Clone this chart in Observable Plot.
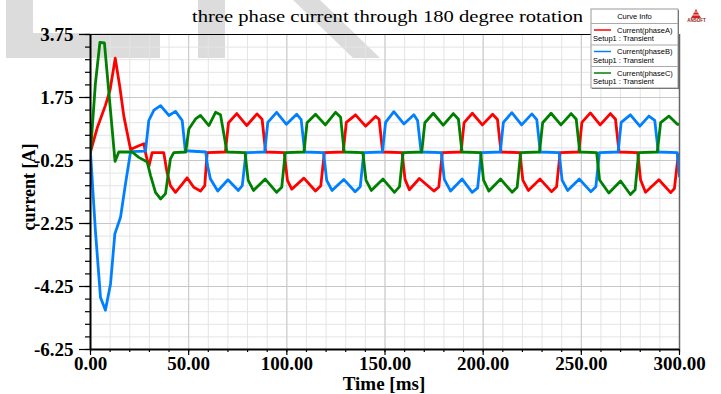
<!DOCTYPE html>
<html><head><meta charset="utf-8">
<script src="https://cdn.jsdelivr.net/npm/d3@7"></script>
<script src="https://cdn.jsdelivr.net/npm/@observablehq/plot@0.6"></script>
<style>
body{margin:0;background:#fff;}
#wrap{position:relative;width:721px;height:394px;overflow:hidden;}
.wm{position:absolute;background:#dcdcdc;}
#chart{position:absolute;left:0;top:0;}
#over{position:absolute;left:0;top:0;pointer-events:none;}
</style></head><body>
<div id="wrap">
  <div class="wm" style="left:6px;top:0;width:27px;height:58px"></div>
  <div class="wm" style="left:33px;top:33px;width:127px;height:25px"></div>
  <div class="wm" style="left:198px;top:0;width:27px;height:58px"></div>
  <svg style="position:absolute;left:0;top:0" width="721" height="394"><polygon points="293,0 320,0 380,58 353,58" fill="#dcdcdc"/></svg>
  <div id="chart"></div>
  <svg id="over" width="721" height="394"></svg>
</div>
<script>
// ---- data (time in ms, current in A) ----
const phaseA = [[0,0.02],[3.5,0.8],[7.6,1.5],[10,2.0],[12.6,3.0],[14.9,2.1],[17,1.15],[20.4,0.1],[24.6,0.22],[27.2,0.28],[28,0.0],[29.7,-0.45],[31.4,0.0],[37.3,0.0],[39,-0.63],[40.7,-1.05],[43.3,-1.26],[46.7,-1.0],[49.2,-0.8],[52.6,-1.1],[56,-1.22],[58.2,-1.05],[59.4,0.0],
[68.7,0.02],[70.3,0.95],[74.5,1.24],[79.6,0.86],[84.8,1.23],[87.4,1.06],[89.2,0.02],
[98.7,0.0],[100.3,-0.88],[102.5,-1.16],[108.7,-0.81],[114.6,-1.22],[117.3,-1.05],[119.1,0.0],
[128.7,0.02],[130.3,0.96],[135,1.2],[140.1,0.84],[145.2,1.15],[147,1.06],[148.8,0.02],
[158.7,0.0],[160.2,-0.85],[162.4,-1.18],[167.5,-0.82],[174.9,-1.22],[177.4,-1.09],[179.2,0.0],
[188.7,0.02],[190.3,0.95],[194.5,1.25],[199.6,0.88],[204.8,1.22],[207.3,1.05],[209.1,0.02],
[218.7,0.0],[220.2,-0.87],[223,-1.2],[229,-0.84],[234.8,-1.24],[237.4,-1.08],[239.2,0.0],
[248.7,0.02],[250.3,0.96],[254.6,1.26],[259.6,0.88],[264.8,1.24],[267.4,1.06],[269.2,0.02],
[278.7,0.0],[280.2,-0.87],[282.7,-1.26],[289.5,-0.86],[295.5,-1.27],[297.4,-1.14],[299.3,-0.1],[300,-0.05]];

const phaseB = [[0,0.0],[2.5,-2.48],[5.1,-4.6],[7.6,-5.0],[10.2,-4.17],[12.4,-2.58],[15.3,-2.05],[17.8,-1.0],[20.4,0.03],[28,0.05],[29.7,1.02],[32.3,1.35],[35.7,1.49],[39.9,1.18],[43.3,1.31],[46.7,1.02],[48.3,0.06],[58.7,0.02],
[59.5,-0.38],[61.1,-0.84],[64.8,-1.22],[70,-0.86],[75.3,-1.2],[77.3,-1.05],[79.2,0.0],
[88.7,0.02],[90.3,0.96],[94.8,1.28],[99.8,0.9],[105,1.22],[107.3,1.05],[109.1,0.02],
[118.7,0.0],[120.3,-0.88],[123,-1.2],[129,-0.85],[134.8,-1.24],[137.4,-1.08],[139.2,0.0],
[148.7,0.02],[150.3,0.96],[154.5,1.3],[159.6,0.91],[164.7,1.2],[166.6,1.02],[168.4,0.02],
[178.7,0.0],[180.2,-0.85],[183.4,-1.22],[189.3,-0.84],[194.4,-1.26],[197.2,-1.12],[199,0.0],
[208.7,0.02],[210.3,0.96],[214.6,1.27],[219.6,0.88],[224.8,1.23],[227.3,1.05],[229.1,0.02],
[238.7,0.0],[240.2,-0.87],[243,-1.2],[249,-0.84],[254.8,-1.24],[257.4,-1.08],[259.2,0.0],
[268.7,0.02],[270.3,0.96],[275,1.2],[279.8,0.84],[284.4,1.16],[287.4,1.02],[289.2,0.02],
[298.8,0.0],[300,-0.75]];

const phaseC = [[0,0.0],[2.5,2.2],[4.8,3.5],[7.1,3.48],[12.5,-0.28],[14.4,0.02],[21.2,0.02],[24.6,-0.15],[28.9,-0.3],[30.6,-0.73],[33.1,-1.26],[35.7,-1.47],[38.2,-1.3],[40.7,-0.2],[42.4,0.0],[48.5,0.02],
[50.1,0.75],[53.5,1.07],[56,1.18],[60.3,0.86],[63.7,1.28],[66.2,1.2],[67.9,0.6],[69.5,0.02],
[78.7,0.0],[80.3,-0.88],[83,-1.2],[89,-0.84],[94.8,-1.26],[97.4,-1.1],[99.2,0.0],
[108.7,0.02],[110.3,0.95],[114.6,1.22],[119.6,0.88],[124.8,1.28],[127.4,1.12],[129.2,0.02],
[138.7,0.0],[140.3,-0.87],[143,-1.2],[149,-0.84],[154.8,-1.26],[157.4,-1.08],[159.2,0.0],
[168.7,0.02],[170.3,0.95],[174.6,1.25],[179.6,0.87],[184.8,1.24],[187.4,1.06],[189.2,0.02],
[198.7,0.0],[200.2,-0.87],[202.9,-1.22],[208.9,-0.84],[214.8,-1.26],[217.3,-1.1],[219.1,0.0],
[228.7,0.02],[230.3,0.95],[234.6,1.25],[239.6,0.88],[244.8,1.24],[247.4,1.06],[249.2,0.02],
[257.8,0.0],[259.3,-0.87],[264,-1.28],[270,-0.9],[275,-1.33],[277.4,-1.18],[279.2,0.0],
[288.7,0.02],[290.4,0.95],[294.6,1.16],[298.9,0.9],[300,0.9]];

const seriesNames = ["Current(phaseA)","Current(phaseB)","Current(phaseC)"];
const seriesColors = ["#ff0000","#0080ff","#008000"];
const xTicks = [0,50,100,150,200,250,300];
const yTicks = [-6.25,-4.25,-2.25,-0.25,1.75,3.75];
const titleText = "three phase current through 180 degree rotation";
const xLabel = "Time [ms]";
const yLabel = "current [A]";

const xMinor = d3.range(0,301,10);
const yMinor = d3.range(0,26).map(i => -6.25 + i*0.4);

const toRows = (arr, name) => arr.map(([t,v]) => ({t, v, name}));
const rows = [...toRows(phaseA,seriesNames[0]), ...toRows(phaseB,seriesNames[1]), ...toRows(phaseC,seriesNames[2])];

const plot = Plot.plot({
  width: 721, height: 394,
  marginLeft: 90, marginRight: 42, marginTop: 34, marginBottom: 45,
  x: {domain: [0,300], label: null},
  y: {domain: [-6.25,3.75], label: null},
  color: {domain: seriesNames, range: seriesColors},
  style: {fontFamily: "'Liberation Serif', serif", fontSize: "19px", fontWeight: "bold", color: "#000", background: "transparent", overflow: "visible"},
  marks: [
    Plot.ruleX(xMinor, {stroke: "#e4e4e4", strokeWidth: 1}),
    Plot.ruleY(yMinor, {stroke: "#e4e4e4", strokeWidth: 1}),
    Plot.ruleX(xTicks, {stroke: "#c8c8c8", strokeWidth: 1}),
    Plot.ruleY(yTicks, {stroke: "#c8c8c8", strokeWidth: 1}),
    Plot.line(rows, {x: "t", y: "v", z: "name", stroke: "name", strokeWidth: 2.8, strokeLinejoin: "round", clip: true}),
    Plot.ruleY([3.75], {stroke: "#000", strokeWidth: 1.2}),
    Plot.ruleX([300], {stroke: "#666", strokeWidth: 1.5}),
    Plot.axisY(yMinor, {anchor: "left", tickSize: 5, tickFormat: () => "", label: null, strokeWidth: 1.2}),
    Plot.axisY(yTicks, {anchor: "left", tickSize: 11, tickPadding: 6, tickFormat: d => d.toFixed(2), label: null, strokeWidth: 1.2}),
    Plot.axisX(xMinor, {anchor: "bottom", tickSize: 3, tickFormat: () => "", label: null, strokeWidth: 1.2}),
    Plot.axisX(xTicks, {anchor: "bottom", tickSize: 6, tickPadding: 1, tickFormat: d => d.toFixed(2), label: null, strokeWidth: 1.2}),
    Plot.ruleX([0], {stroke: "#000", strokeWidth: 2}),
    Plot.ruleY([-6.25], {stroke: "#000", strokeWidth: 2})
  ]
});
document.getElementById("chart").appendChild(plot);

// ---- overlays: title, axis labels, legend, logo ----
const ov = d3.select("#over");
ov.append("text").attr("x", 192).attr("y", 22).attr("textLength", 391).attr("lengthAdjust", "spacingAndGlyphs")
  .attr("font-family", "'Liberation Serif', serif").attr("font-size", 16).attr("fill", "#000").text(titleText);
ov.append("text").attr("x", 384).attr("y", 390).attr("text-anchor", "middle")
  .attr("font-family", "'Liberation Serif', serif").attr("font-size", 19).attr("font-weight", "bold").text(xLabel);
ov.append("text").attr("transform", "translate(35,187) rotate(-90)").attr("text-anchor", "middle")
  .attr("font-family", "'Liberation Serif', serif").attr("font-size", 18).attr("font-weight", "bold").text(yLabel);

// legend box
const lg = ov.append("g").attr("font-family", "'Liberation Sans', Arial, sans-serif").attr("font-size", 7.5).attr("fill", "#000");
lg.append("rect").attr("x", 592).attr("y", 10).attr("width", 87).attr("height", 79).attr("fill", "#555");
lg.append("rect").attr("x", 591).attr("y", 9).attr("width", 87).attr("height", 79).attr("fill", "#fff").attr("stroke", "#999").attr("stroke-width", 1);
lg.append("text").attr("x", 634.5).attr("y", 19).attr("text-anchor", "middle").text("Curve Info");
[23.5, 45, 66.5].forEach(y => lg.append("line").attr("x1", 591).attr("x2", 678).attr("y1", y).attr("y2", y).attr("stroke", "#aaa"));
seriesNames.forEach((n, i) => {
  const y0 = 30 + i * 21.5;
  lg.append("line").attr("x1", 594).attr("x2", 611).attr("y1", y0).attr("y2", y0).attr("stroke", seriesColors[i]).attr("stroke-width", 1.5);
  lg.append("text").attr("x", 617).attr("y", y0 + 2.5).text(n);
  lg.append("text").attr("x", 593).attr("y", y0 + 11).text("Setup1 : Transient");
});

// logo
const logo = ov.append("g");
logo.append("polygon").attr("points", "696,9 691,18 701,18").attr("fill", "#d42020");
[12, 15].forEach(y => logo.append("line").attr("x1", 690).attr("x2", 702).attr("y1", y).attr("y2", y).attr("stroke", "#fff").attr("stroke-width", 0.8));
logo.append("text").attr("x", 696.5).attr("y", 22).attr("text-anchor", "middle").attr("font-family", "'Liberation Sans', sans-serif")
  .attr("font-size", 4.5).attr("font-weight", "bold").attr("fill", "#8a2020").text("ANSOFT");
</script>
</body></html>
